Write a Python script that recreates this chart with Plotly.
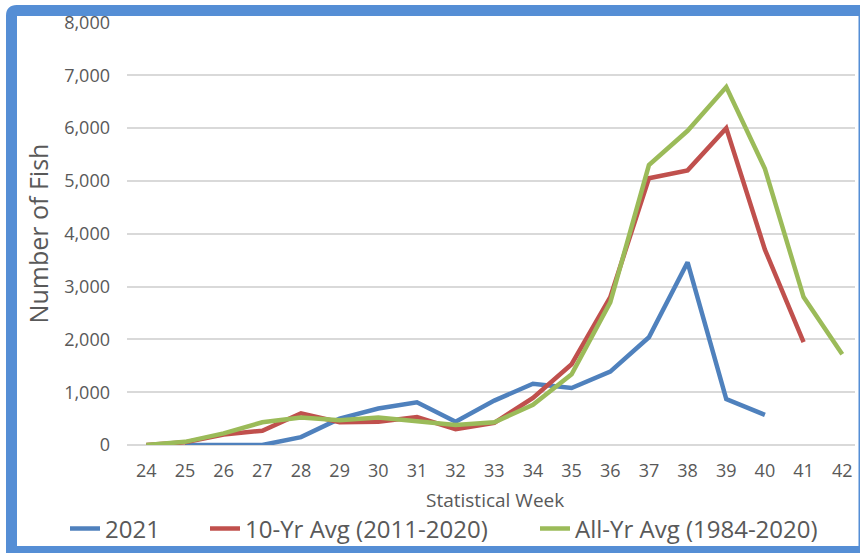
import plotly.graph_objects as go

# Weekly fish counts by statistical week
weeks = list(range(24, 43))
counts_2021 = [None, 0, 0, 0, 150, 500, 690, 810, 440, 840, 1160, 1080, 1390, 2040, 3460, 870, 570, None, None]
avg_10yr = [0, 50, 200, 270, 600, 430, 440, 530, 300, 420, 890, 1530, 2800, 5050, 5200, 6000, 3700, 1950, None]
avg_all_yr = [0, 60, 220, 430, 520, 470, 520, 460, 380, 430, 760, 1340, 2700, 5300, 5950, 6780, 5230, 2800, 1720]

series_names = ["2021", "10-Yr Avg (2011-2020)", "All-Yr Avg (1984-2020)"]
series_colors = ["#4F81BD", "#C0504D", "#9BBB59"]
y_ticks = [0, 1000, 2000, 3000, 4000, 5000, 6000, 7000, 8000]

FIG_W, FIG_H = 860, 553
ML, MR, MT, MB = 127, 5, 22, 108
PW = FIG_W - ML - MR
PH = FIG_H - MT - MB

TEXT = "#595959"
GRID = "#D9D9D9"
FONT = "Open Sans, Arial, sans-serif"

fig = go.Figure()
legend_ids = ["legend", "legend2", "legend3"]
legend_x = [75, 215, 545]
for vals, name, color, lg in zip([counts_2021, avg_10yr, avg_all_yr], series_names, series_colors, legend_ids):
    fig.add_trace(go.Scatter(
        x=weeks, y=vals, name=name, mode="lines",
        line=dict(color=color, width=4.5),
        legend=lg, connectgaps=False,
    ))


def lx(p):
    return (p - ML) / PW


def ly(p):
    return (FIG_H - MB - p) / PH


# Blue frame around the chart, rounded at the top-left corner
left, top, right, bottom, r = 11.5, 10.5, 864, 551.5, 5
frame_path = (
    f"M {lx(left)},{ly(bottom)} L {lx(left)},{ly(top + r)} "
    f"Q {lx(left)},{ly(top)} {lx(left + r)},{ly(top)} "
    f"L {lx(right)},{ly(top)} L {lx(right)},{ly(bottom)} Z"
)
fig.add_shape(type="path", path=frame_path, xref="paper", yref="paper",
              line=dict(color="#558ED5", width=11), layer="above")

# x-axis title, set below the week labels
fig.add_annotation(text="Statistical Week", xref="paper", yref="paper",
                   x=lx(495), y=ly(500), xanchor="center", yanchor="middle",
                   showarrow=False, font=dict(family=FONT, size=19, color=TEXT))

legend_common = dict(
    orientation="h", xref="container", yref="container",
    yanchor="middle", xanchor="left", y=1 - 529 / FIG_H,
    font=dict(family=FONT, size=24, color=TEXT),
    bgcolor="rgba(0,0,0,0)", itemwidth=30, tracegroupgap=0,
)
layout_legends = {}
for lg, x0 in zip(legend_ids, legend_x):
    layout_legends[lg] = dict(legend_common, x=(x0 - 10) / FIG_W)

fig.update_layout(
    width=FIG_W, height=FIG_H,
    margin=dict(l=ML, r=MR, t=MT, b=MB, autoexpand=False),
    paper_bgcolor="white", plot_bgcolor="white",
    font=dict(family=FONT, color=TEXT),
    showlegend=True,
    **layout_legends,
    xaxis=dict(
        range=[23.5, 42.33], tickmode="array", tickvals=weeks,
        ticktext=[str(w) for w in weeks],
        showgrid=False, zeroline=False, showline=False, ticks="",
        automargin=False,
        tickfont=dict(size=18, color=TEXT), ticklabelstandoff=13,
    ),
    yaxis=dict(
        range=[0, 8010], tickmode="array", tickvals=y_ticks,
        ticktext=[f"{v:,}" for v in y_ticks],
        showgrid=True, gridcolor=GRID, gridwidth=1.5,
        zeroline=True, zerolinecolor=GRID, zerolinewidth=1.5,
        showline=False, ticks="", automargin=False,
        tickfont=dict(size=18, color=TEXT), ticklabelstandoff=16,
        title=dict(text="Number of Fish", font=dict(size=25, color=TEXT), standoff=8),
    ),
)

fig.write_html("out.html")
